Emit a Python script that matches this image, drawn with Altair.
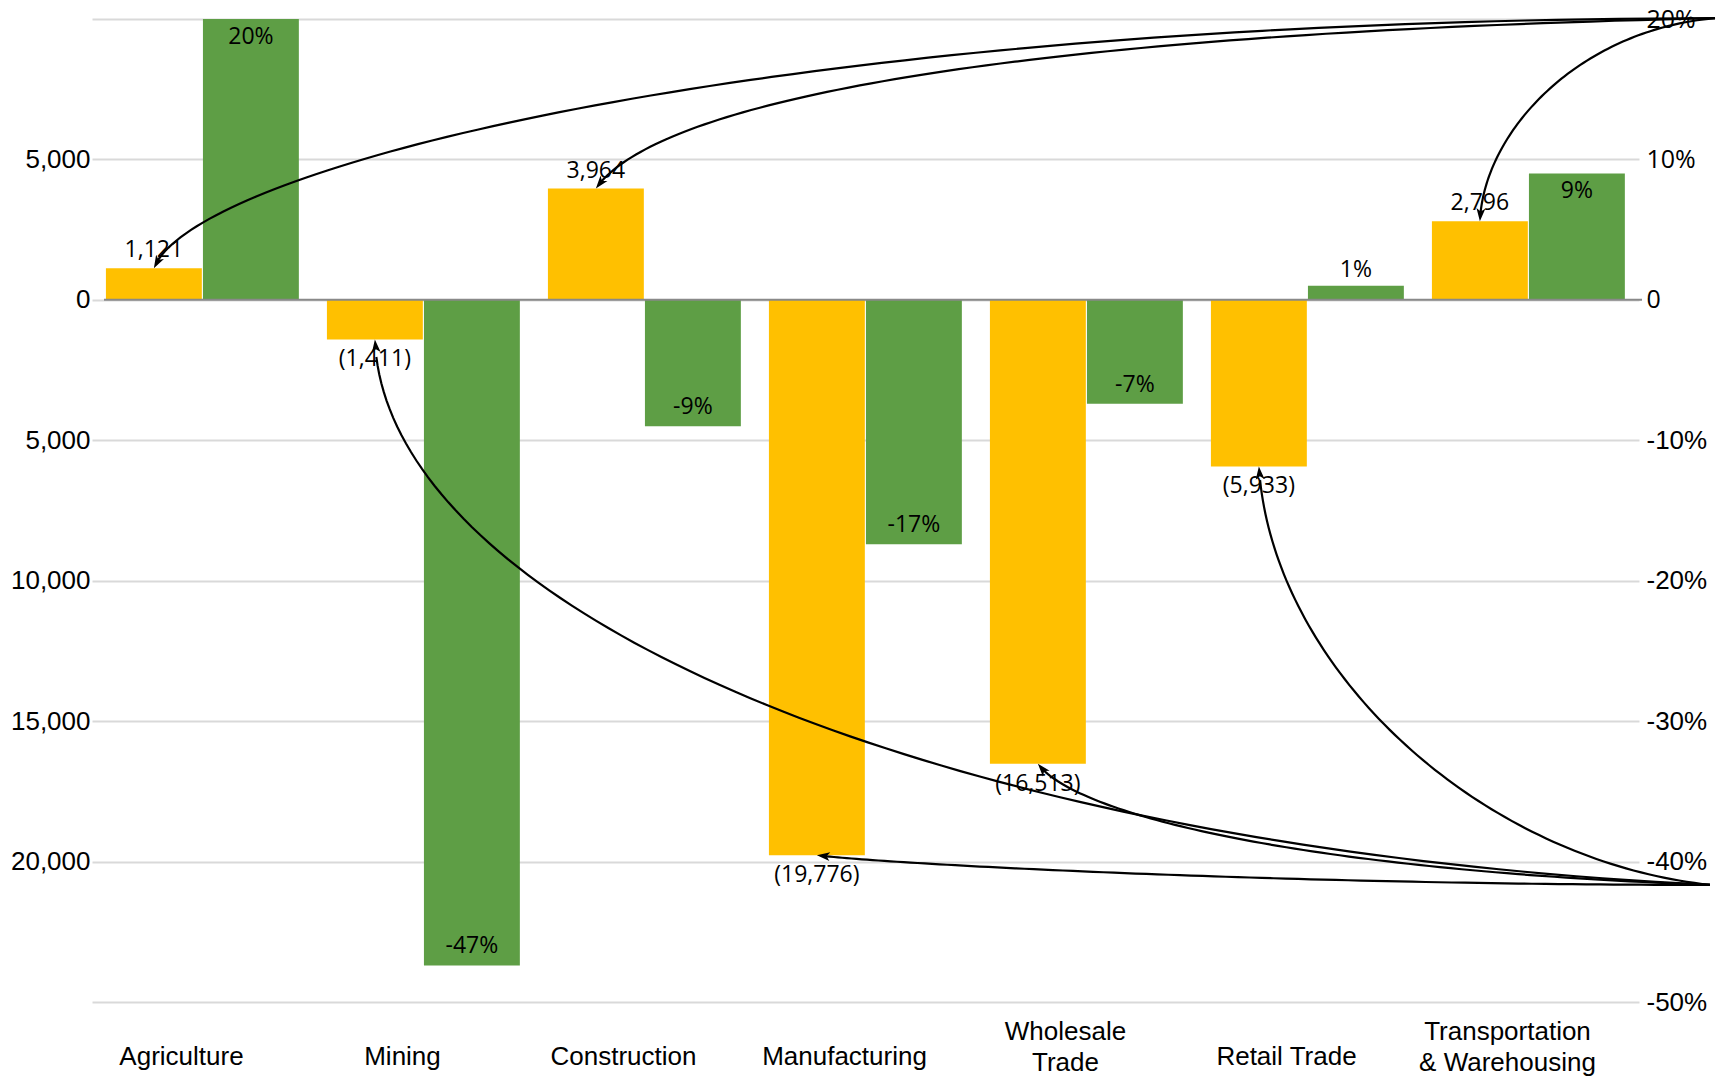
import math

import altair as alt
import numpy as np
import pandas as pd

# ---------------------------------------------------------------- data
industries = ["Agriculture", "Mining", "Construction", "Manufacturing",
              "Wholesale Trade", "Retail Trade", "Transportation & Warehousing"]
axis_labels = ["Agriculture", "Mining", "Construction", "Manufacturing",
               "Wholesale\nTrade", "Retail Trade", "Transportation\n& Warehousing"]
job_change = [1121, -1411, 3964, -19776, -16513, -5933, 2796]
pct_change = [0.20, -0.474, -0.09, -0.174, -0.074, 0.01, 0.09]

count_ticks = [5000, 0, -5000, -10000, -15000, -20000]
pct_ticks = [0.2, 0.1, 0.0, -0.1, -0.2, -0.3, -0.4, -0.5]

# -------------------------------------------------------------- layout
W, H = 1547, 983
N = len(industries)
COUNT_DOMAIN = [-25000, 10000]
PCT_DOMAIN = [-0.5, 0.2]
SLOT_PAD, BAR_W, BAR_GAP = 0.063, 0.434, 0.005

YELLOW = "#FFC000"
GREEN = "#5E9E45"
GRID = "#D9D9D9"
AXIS_GREY = "#898989"
LABEL_FONT = "Open Sans"
AXIS_FONT = "Liberation Sans"

slot = np.arange(N)
bars = pd.DataFrame({
    "industry": industries,
    "jobs": job_change,
    "pct": pct_change,
    "slot_mid": slot + 0.5,
    "y_x0": slot + SLOT_PAD,
    "y_x1": slot + SLOT_PAD + BAR_W,
    "g_x0": slot + SLOT_PAD + BAR_W + BAR_GAP,
    "g_x1": slot + SLOT_PAD + 2 * BAR_W + BAR_GAP,
    "zero": 0,
})
bars["y_mid"] = (bars["y_x0"] + bars["y_x1"]) / 2
bars["g_mid"] = (bars["g_x0"] + bars["g_x1"]) / 2
bars["jobs_text"] = [f"{v:,}" if v >= 0 else f"({-v:,})" for v in job_change]
bars["pct_text"] = [f"{round(p * 100):d}%" for p in pct_change]

# category names, one row per printed line
line_rows = []
for i, name in enumerate(axis_labels):
    parts = name.split("\n")
    if len(parts) == 1:
        line_rows.append({"slot_mid": i + 0.5, "text": parts[0], "row": "single"})
    else:
        line_rows.append({"slot_mid": i + 0.5, "text": parts[0], "row": "first"})
        line_rows.append({"slot_mid": i + 0.5, "text": parts[1], "row": "second"})
cat_lines = pd.DataFrame(line_rows)

# ------------------------------------------------- callout arrow curves
# Each arrow is a cubic Bezier from the end of a yellow bar to one of the
# two corners on the right; controls are given as (slot, jobs) pairs.
top_corner = (7.344, 10030)
bottom_corner = (7.321, -20830)
arrow_paths = {
    "Agriculture": (top_corner, (0.443, 4625), (2.977, 9960)),
    "Construction": (top_corner, (2.525, 6761), (3.882, 9432)),
    "Transportation & Warehousing": (top_corner, (6.299, 6049), (6.733, 9610)),
    "Mining": (bottom_corner, (1.326, -10685), (3.656, -19408)),
    "Manufacturing": (bottom_corner, (3.656, -20120), (5.466, -20833)),
    "Wholesale Trade": (bottom_corner, (4.448, -18340), (5.466, -20298)),
    "Retail Trade": (bottom_corner, (5.339, -13177), (6.281, -19942)),
}

px_per_slot = W / N
px_per_unit = H / (COUNT_DOMAIN[1] - COUNT_DOMAIN[0])
t = np.linspace(0, 1, 90)[:, None]
curve_rows, head_rows = [], []
for _, r in bars.iterrows():
    src, c1, c2 = arrow_paths[r["industry"]]
    p0 = np.array([r["y_mid"], r["jobs"]], dtype=float)
    p1, p2, p3 = (np.array(p, dtype=float) for p in (c1, c2, src))
    pts = ((1 - t) ** 3) * p0 + (3 * (1 - t) ** 2 * t) * p1 \
        + (3 * (1 - t) * t ** 2) * p2 + (t ** 3) * p3
    for k, (x, y) in enumerate(pts[2:]):
        curve_rows.append({"industry": r["industry"], "k": k, "x": x, "y": y})
    back = pts[3]
    dx = (p0[0] - back[0]) * px_per_slot
    dy = -(p0[1] - back[1]) * px_per_unit
    head_rows.append({"industry": r["industry"], "x": p0[0], "y": p0[1],
                      "angle": math.degrees(math.atan2(dx, -dy)) % 360})
curves = pd.DataFrame(curve_rows)
heads = pd.DataFrame(head_rows)

ARROW_HEAD = "M0,0L0.75,2.2L0,1.65L-0.75,2.2Z"

# ---------------------------------------------------------- encodings
x_scale = alt.Scale(domain=[0, N], nice=False, zero=False)
count_scale = alt.Scale(domain=COUNT_DOMAIN, nice=False, zero=False)
pct_scale = alt.Scale(domain=PCT_DOMAIN, nice=False, zero=False)

left_axis = alt.Axis(
    orient="left", values=count_ticks, title=None,
    labelExpr="format(abs(datum.value), ',')",
    grid=False, domain=False, ticks=False, labelPadding=2,
    labelFont=AXIS_FONT, labelFontSize=26, labelColor="#000000",
    labelFlush=False, labelOverlap=False,
)
right_axis = alt.Axis(
    orient="right", values=pct_ticks, title=None,
    labelExpr="abs(datum.value) < 1e-9 ? '0' : "
              "(datum.value < 0 ? '-' : '') + format(abs(datum.value), '.0%')",
    grid=True, gridColor=GRID, gridWidth=2,
    domain=False, ticks=False, labelPadding=7,
    labelFont={"condition": {"test": "datum.value >= 0", "value": LABEL_FONT},
               "value": AXIS_FONT},
    labelFontSize={"condition": {"test": "datum.value >= 0", "value": 25},
                   "value": 26},
    labelColor="#000000", labelFlush=False, labelOverlap=False,
)


def xq(field):
    return alt.X(field, type="quantitative", scale=x_scale, axis=None)


def y_count(field):
    return alt.Y(field, type="quantitative", scale=count_scale, axis=left_axis)


def y_pct(field):
    return alt.Y(field, type="quantitative", scale=pct_scale, axis=right_axis)


base = alt.Chart(bars)

# ------------------------------------------------- percentage (green) group
green_bars = base.mark_bar(color=GREEN).encode(
    x=xq("g_x0"), x2="g_x1", y=y_pct("pct"), y2="zero",
)
text_style = dict(font=LABEL_FONT, fontSize=23, color="#000000",
                  align="center", baseline="middle")
green_in_pos = base.transform_filter(alt.datum.pct >= 0.03).mark_text(
    dy=18, **text_style).encode(x=xq("g_mid"), y=y_pct("pct"), text="pct_text")
green_in_neg = base.transform_filter(alt.datum.pct <= -0.03).mark_text(
    dy=-19, **text_style).encode(x=xq("g_mid"), y=y_pct("pct"), text="pct_text")
green_small = base.transform_filter(
    (alt.datum.pct < 0.03) & (alt.datum.pct > -0.03)).mark_text(
    dy=-16, **text_style).encode(x=xq("g_mid"), y=y_pct("pct"), text="pct_text")
pct_group = alt.layer(green_bars, green_in_pos, green_in_neg, green_small)

# ---------------------------------------------------- jobs (yellow) group
yellow_bars = base.mark_bar(color=YELLOW).encode(
    x=xq("y_x0"), x2="y_x1", y=y_count("jobs"), y2="zero",
)
yellow_pos = base.transform_filter(alt.datum.jobs >= 0).mark_text(
    dy=-18, **text_style).encode(x=xq("y_mid"), y=y_count("jobs"), text="jobs_text")
yellow_neg = base.transform_filter(alt.datum.jobs < 0).mark_text(
    dy=20, **text_style).encode(x=xq("y_mid"), y=y_count("jobs"), text="jobs_text")
zero_line = base.transform_filter(alt.datum.slot_mid == 0.5).mark_rule(
    color=AXIS_GREY, strokeWidth=2).encode(
    x=alt.value(12), x2=alt.value(W + 3), y=y_count("zero"),
)
arrow_lines = alt.Chart(curves).mark_line(
    color="#000000", strokeWidth=2.2, strokeCap="butt").encode(
    x=xq("x"), y=y_count("y"), detail="industry:N", order="k:Q",
)
arrow_heads = alt.Chart(heads).mark_point(
    shape=ARROW_HEAD, filled=True, size=140, color="#000000", opacity=1,
    strokeWidth=0.5).encode(
    x=xq("x"), y=y_count("y"), angle=alt.Angle("angle:Q", scale=None),
)

# category names under the plot (one or two lines each)
cat_style = dict(font=AXIS_FONT, fontSize=26, color="#000000",
                 align="center", baseline="middle", dx=-21)
cat_base = alt.Chart(cat_lines)
cat_single = cat_base.transform_filter(alt.datum.row == "single").mark_text(
    **cat_style).encode(x=xq("slot_mid"), y=alt.value(H + 55), text="text:N")
cat_first = cat_base.transform_filter(alt.datum.row == "first").mark_text(
    **cat_style).encode(x=xq("slot_mid"), y=alt.value(H + 30), text="text:N")
cat_second = cat_base.transform_filter(alt.datum.row == "second").mark_text(
    **cat_style).encode(x=xq("slot_mid"), y=alt.value(H + 61), text="text:N")

jobs_group = alt.layer(yellow_bars, yellow_pos, yellow_neg, zero_line,
                       arrow_lines, arrow_heads,
                       cat_single, cat_first, cat_second)

chart = (
    alt.layer(pct_group, jobs_group)
    .resolve_scale(y="independent")
    .properties(
        width=W, height=H,
        autosize=alt.AutoSizeParams(type="none"),
        padding={"left": 92, "top": 19, "right": 77, "bottom": 76},
        background="white",
    )
    .configure_view(strokeWidth=0)
)

chart.save("out.html", embed_options={"renderer": "svg", "actions": False})
